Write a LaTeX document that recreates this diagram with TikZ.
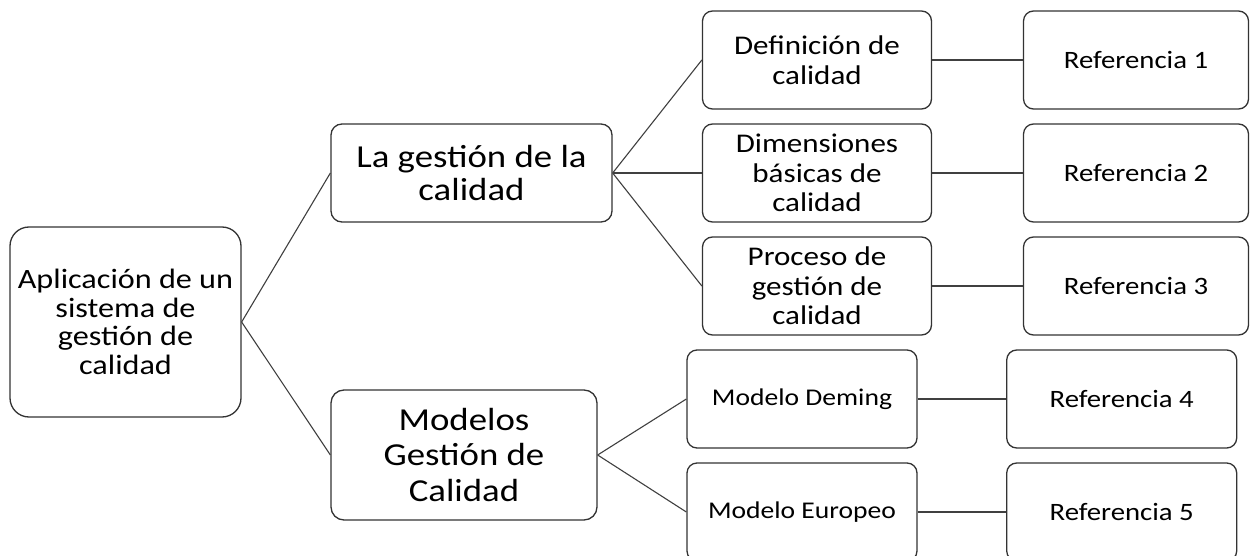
\documentclass[tikz,border=0pt]{standalone}
\usepackage{fontspec}
\setmainfont{Carlito}[FakeStretch=1.15]
\begin{document}
\begin{tikzpicture}[x=1pt,y=-1pt,
  box/.style={draw=black!80,line width=1.3pt,fill=white,inner sep=0pt,align=center,text=black},
  conn/.style={draw=black!75,line width=1.1pt}]
\useasboundingbox[fill=white] (0,0) rectangle (1250,556);
\node[box,rounded corners=19pt,minimum width=231pt,minimum height=190pt,font=\fontsize{28}{28.5}\selectfont] (root) at (125.5,322) {Aplicación de un\\sistema de\\gestión de\\calidad};
\node[box,rounded corners=11pt,minimum width=281pt,minimum height=98pt,font=\fontsize{32}{33}\selectfont] (lg) at (471.5,173) {La gestión de la\\calidad};
\node[box,rounded corners=13pt,minimum width=266pt,minimum height=130pt,font=\fontsize{32}{35.5}\selectfont] (mod) at (464,455) {Modelos\\Gestión de\\Calidad};
\tikzset{mid/.style={box,rounded corners=10pt,minimum width=229pt,minimum height=98pt,font=\fontsize{27}{29.5}\selectfont},
  sml/.style={box,rounded corners=10pt,minimum width=230pt,minimum height=98pt,font=\fontsize{24}{28}\selectfont},
  refbox/.style={sml,font=\fontsize{25}{28}\selectfont}}
\node[mid] (def) at (817,60) {Definición de\\calidad};
\node[mid] (dim) at (817,173) {Dimensiones\\básicas de\\calidad};
\node[mid] (proc) at (817,286) {Proceso de\\gestión de\\calidad};
\node[sml] (dem) at (802,399) {Modelo Deming};
\node[sml] (eur) at (802,512) {Modelo Europeo};
\node[refbox,minimum width=225pt] (r1) at (1136,60) {Referencia 1};
\node[refbox,minimum width=225pt] (r2) at (1136,173) {Referencia 2};
\node[refbox,minimum width=225pt] (r3) at (1136,286) {Referencia 3};
\node[refbox] (r4) at (1121.7,399) {Referencia 4};
\node[refbox] (r5) at (1121.7,512) {Referencia 5};
\draw[conn] (root.east) -- (lg.west);
\draw[conn] (root.east) -- (mod.west);
\draw[conn] (lg.east) -- (def.west);
\draw[conn] (lg.east) -- (dim.west);
\draw[conn] (lg.east) -- (proc.west);
\draw[conn] (mod.east) -- (dem.west);
\draw[conn] (mod.east) -- (eur.west);
\draw[conn] (def.east) -- (r1.west);
\draw[conn] (dim.east) -- (r2.west);
\draw[conn] (proc.east) -- (r3.west);
\draw[conn] (dem.east) -- (r4.west);
\draw[conn] (eur.east) -- (r5.west);
\end{tikzpicture}
\end{document}
